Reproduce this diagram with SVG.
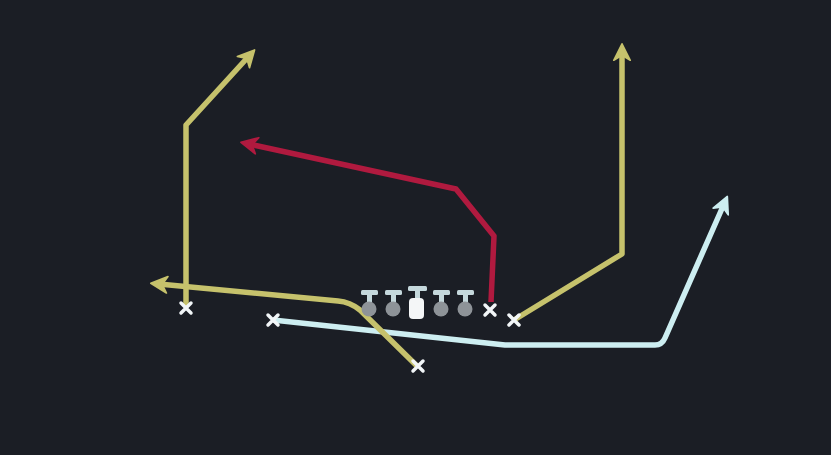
<svg xmlns="http://www.w3.org/2000/svg" width="831" height="455" viewBox="0 0 831 455">
<defs>
<style>
.route{fill:none;stroke-width:5.5;stroke-linejoin:round;stroke-linecap:butt}
.y{stroke:#c6c26c}
.r{stroke:#b01a3f}
.c{stroke:#cdeef1}
.xm{stroke:#f2f6f8;stroke-width:3.5;stroke-linecap:round}
.tee{fill:#c5d8dc}
.dot{fill:#8e9398}
</style>
<marker id="ay" viewBox="0 0 12 12" refX="6" refY="6" markerWidth="3.6" markerHeight="3.6" orient="auto" markerUnits="strokeWidth"><path d="M1,1 L11,6 L1,11 L4,6 z" fill="#c6c26c" stroke="#c6c26c" stroke-linejoin="round"/></marker>
<marker id="ar" viewBox="0 0 12 12" refX="6" refY="6" markerWidth="3.6" markerHeight="3.6" orient="auto" markerUnits="strokeWidth"><path d="M1,1 L11,6 L1,11 L4,6 z" fill="#b01a3f" stroke="#b01a3f" stroke-linejoin="round"/></marker>
<marker id="ac" viewBox="0 0 12 12" refX="6" refY="6" markerWidth="3.6" markerHeight="3.6" orient="auto" markerUnits="strokeWidth"><path d="M1,1 L11,6 L1,11 L4,6 z" fill="#cdeef1" stroke="#cdeef1" stroke-linejoin="round"/></marker>
</defs>
<rect width="831" height="455" fill="#1b1e25"/>
<g id="connectors">
<polyline class="route y" points="186,306 186,125 249,56" marker-end="url(#ay)"/>
<polyline class="route r" points="491,302 494,236 456,189 249,144" marker-end="url(#ar)"/>
<polyline class="route y" points="514,320 622,254 622,52" marker-end="url(#ay)"/>
<path class="route c" d="M273,320 L505,345 L655,345 Q662,345 665,338 L724,204" marker-end="url(#ac)"/>
<path class="route y" d="M417,366 L360,310 Q350,302 338,301 L159,284" marker-end="url(#ay)"/>
</g>
<g id="line">
<g id="lt"><rect class="tee" x="361" y="290" width="17" height="5" rx="1.5"/><rect class="tee" x="367" y="294" width="5" height="9"/><circle class="dot" cx="369" cy="309" r="7.5"/></g>
<g id="lg"><rect class="tee" x="385" y="290" width="17" height="5" rx="1.5"/><rect class="tee" x="391" y="294" width="5" height="9"/><circle class="dot" cx="393" cy="309" r="7.5"/></g>
<g id="ctr"><rect class="tee" x="408" y="286" width="19" height="5" rx="1.5"/><rect class="tee" x="415" y="290" width="5" height="9"/><rect x="409" y="298" width="15" height="21" rx="4" fill="#f4f6f7"/></g>
<g id="rg"><rect class="tee" x="433" y="290" width="17" height="5" rx="1.5"/><rect class="tee" x="439" y="294" width="5" height="9"/><circle class="dot" cx="441" cy="309" r="7.5"/></g>
<g id="rt"><rect class="tee" x="457" y="290" width="17" height="5" rx="1.5"/><rect class="tee" x="463" y="294" width="5" height="9"/><circle class="dot" cx="465" cy="309" r="7.5"/></g>
</g>
<g id="x1"><path class="xm" d="M181,303 L191,313 M191,303 L181,313"/></g>
<g id="x2"><path class="xm" d="M268,315 L278,325 M278,315 L268,325"/></g>
<g id="x3"><path class="xm" d="M413,361 L423,371 M423,361 L413,371"/></g>
<g id="x4"><path class="xm" d="M485,305 L495,315 M495,305 L485,315"/></g>
<g id="x5"><path class="xm" d="M509,315 L519,325 M519,315 L509,325"/></g>
</svg>
